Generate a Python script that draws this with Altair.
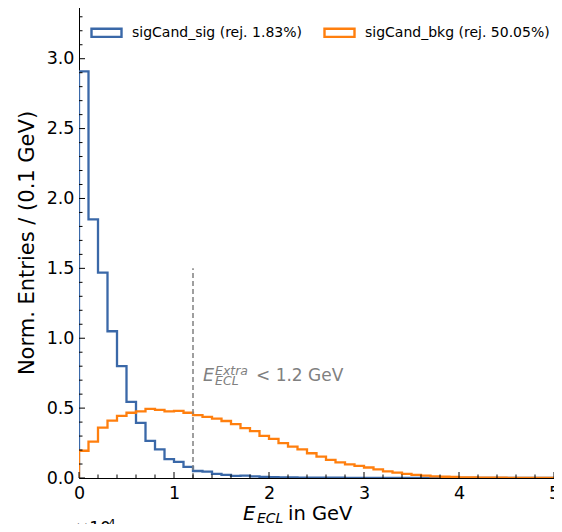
import altair as alt
import pandas as pd

# ---- data -------------------------------------------------------------
edges = [round(i * 0.1, 1) for i in range(51)]
series_names = ["sigCand_sig (rej. 1.83%)", "sigCand_bkg (rej. 50.05%)"]
sig_vals = [2.91, 1.85, 1.47, 1.05, 0.80, 0.545, 0.395, 0.265, 0.205, 0.135,
            0.115, 0.08, 0.05, 0.045, 0.029, 0.022, 0.015, 0.017, 0.012, 0.008,
            0.006, 0.005, 0.004, 0.003, 0.003, 0.002, 0.002, 0.002, 0.001, 0.001,
            0.001, 0.001, 0.0, 0.0, 0.0, 0.0, 0.0, 0.0, 0.0, 0.0,
            0.0, 0.0, 0.0, 0.0, 0.0, 0.0, 0.0, 0.0, 0.0, 0.0]
bkg_vals = [0.195, 0.26, 0.36, 0.41, 0.444, 0.467, 0.477, 0.494, 0.487, 0.477,
            0.48, 0.467, 0.45, 0.437, 0.425, 0.408, 0.385, 0.357, 0.335, 0.302,
            0.28, 0.25, 0.224, 0.205, 0.177, 0.153, 0.13, 0.112, 0.098, 0.087,
            0.075, 0.061, 0.048, 0.038, 0.03, 0.022, 0.017, 0.012, 0.009, 0.007,
            0.005, 0.004, 0.003, 0.002, 0.002, 0.001, 0.001, 0.001, 0.001, 0.001]
cut_value = 1.2
cut_top = 1.5
y_major = [0.0, 0.5, 1.0, 1.5, 2.0, 2.5, 3.0]
y_minor = [round(i * 0.1, 1) for i in range(34) if i % 5 != 0]
x_major = [0, 1, 2, 3, 4, 5]
x_minor = [round(i * 0.2, 1) for i in range(1, 25) if i % 5 != 0]

BLUE = "#3a68a8"
ORANGE = "#ff7f0e"
GRAY = "#808080"
W, H = 475, 471


def step_rows(vals, name):
    rows = [{"x": 0.0, "y": 0.0, "o": 0, "s": name}]
    for i, v in enumerate(vals):
        rows.append({"x": edges[i], "y": v, "o": i + 1, "s": name})
    rows.append({"x": edges[-1], "y": vals[-1], "o": len(vals) + 1, "s": name})
    rows.append({"x": edges[-1], "y": 0.0, "o": len(vals) + 2, "s": name})
    return rows


df_sig = pd.DataFrame(step_rows(sig_vals, series_names[0]))
df_bkg = pd.DataFrame(step_rows(bkg_vals, series_names[1]))

xs = alt.Scale(domain=[0, 5], nice=False, zero=False)
ys = alt.Scale(domain=[0, 3.37], nice=False, zero=False)
color = alt.Color(
    "s:N",
    scale=alt.Scale(domain=series_names, range=[BLUE, ORANGE]),
    legend=alt.Legend(
        title=None, orient="none", legendX=11, legendY=9,
        direction="horizontal", columns=2, columnPadding=17,
        symbolType="M-1,-0.27H1V0.27H-1Z", symbolSize=900,
        symbolStrokeWidth=2.4, symbolFillColor="transparent",
        labelFontSize=14, labelFont="DejaVu Sans", labelOffset=9,
        labelLimit=400, padding=0, labelColor="black",
    ),
)

x_axis = alt.Axis(values=x_major, format="d", ticks=False, grid=False,
                  labelFontSize=17.5, labelFont="DejaVu Sans", labelPadding=6,
                  labelColor="black", title=None, domainColor="black",
                  labelFlush=False)
y_axis = alt.Axis(values=y_major, format=".1f", ticks=False, grid=False,
                  labelFontSize=17.5, labelFont="DejaVu Sans", labelPadding=5,
                  labelColor="black", title="Norm. Entries / (0.1 GeV)",
                  titleFontSize=21, titleFont="DejaVu Sans",
                  titleFontWeight="normal", titleColor="black",
                  titlePadding=9, domainColor="black", labelFlush=False)

X = lambda f: alt.X(f, scale=xs, axis=x_axis)
Y = lambda f: alt.Y(f, scale=ys, axis=y_axis)


def hist_layer(df):
    return alt.Chart(df).mark_line(interpolate="step-after", strokeWidth=2.3,
                                   clip=True).encode(
        x=X("x:Q"), y=Y("y:Q"), color=color, order="o:Q")


sig_line = hist_layer(df_sig)
bkg_line = hist_layer(df_bkg)

cut_df = pd.DataFrame({"x": [cut_value], "y0": [0.0], "y1": [cut_top]})
cut_line = alt.Chart(cut_df).mark_rule(color=GRAY, strokeWidth=1.5,
                                       strokeDash=[5, 3]).encode(
    x=X("x:Q"), y=Y("y0:Q"), y2="y1:Q")


# inward ticks
def yticks(vals, length):
    return alt.Chart(pd.DataFrame({"v": vals})).mark_rule(
        color="black", strokeWidth=1).encode(
        y=Y("v:Q"), x=alt.value(0), x2=alt.value(length))


def xticks(vals, length):
    return alt.Chart(pd.DataFrame({"v": vals})).mark_rule(
        color="black", strokeWidth=1).encode(
        x=X("v:Q"), y=alt.value(H), y2=alt.value(H - length))


one = pd.DataFrame({"a": [0]})


def txt(text, x, y, size, color="black", style="normal", align="left"):
    return alt.Chart(one).mark_text(
        text=text, fontSize=size, font="DejaVu Sans", fontStyle=style,
        color=color, align=align, baseline="alphabetic").encode(
        x=alt.value(x), y=alt.value(y))


annot = [
    txt("E", 124, 374, 17.5, GRAY, "italic"),
    txt("Extra", 136, 368, 12.5, GRAY, "italic"),
    txt("ECL", 136, 378, 12.5, GRAY, "italic"),
    txt("< 1.2 GeV", 177, 374, 17, GRAY),
    txt("E", 164, 513, 19.5, "black", "italic"),
    txt("ECL", 178, 516, 14, "black", "italic"),
    txt("in GeV", 209, 513, 19.5, "black"),
    txt("×10", -4, 527, 17, "black"),
    txt("4", 29, 521, 12, "black"),
]

chart = alt.layer(
    sig_line, bkg_line, cut_line,
    yticks(y_major, 6), yticks(y_minor, 3.5),
    xticks(x_major, 6), xticks(x_minor, 3.5),
    *annot,
).properties(
    width=W, height=H,
    autosize=alt.AutoSizeParams(type="none"),
    padding={"left": 71, "top": -1, "right": 0, "bottom": 46},
).configure_view(stroke="black", strokeWidth=1.2).configure(background="white")

chart.save("out.html", embed_options={"renderer": "svg", "actions": False})
